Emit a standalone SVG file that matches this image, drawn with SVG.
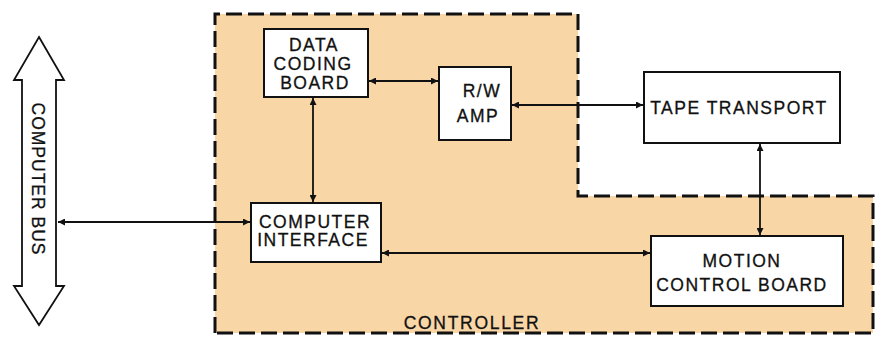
<svg xmlns="http://www.w3.org/2000/svg" width="876" height="338" viewBox="0 0 876 338">
<defs>
<marker id="ah" viewBox="0 0 10 10" refX="10" refY="5" markerWidth="9" markerHeight="7" markerUnits="userSpaceOnUse" orient="auto-start-reverse">
<path d="M0,0 L10,5 L0,10 z" fill="#111"/>
</marker>
<style>
.box{fill:#fff;stroke:#111;stroke-width:2}
.t{font-family:"Liberation Sans",Arial,sans-serif;font-size:17.5px;fill:#111;stroke:#111;stroke-width:0.3;letter-spacing:1.5px;text-anchor:middle}
.c{stroke:#111;stroke-width:1.8;fill:none;marker-start:url(#ah);marker-end:url(#ah)}
</style>
</defs>
<rect width="876" height="338" fill="#fff"/>
<g id="controller">
<path d="M215,14 H578 V196 H873 V333 H215 Z" fill="#F8D6A6" stroke="none"/>
<path d="M215,333 V14 H578 V196 H873 V333 Z" fill="none" stroke="#111" stroke-width="3" stroke-dasharray="16 6"/>
<text class="t" x="472" y="329" style="letter-spacing:1.7px">CONTROLLER</text>
</g>
<g id="computer-bus">
<path d="M39,37 L64,80 L56,80 L56,286 L64,286 L39,325 L14,286 L22,286 L22,80 L14,80 Z" fill="#fff" stroke="#111" stroke-width="1.8" stroke-linejoin="miter"/>
<text class="t" transform="translate(32,179) rotate(90)" x="0" y="0" style="letter-spacing:1px">COMPUTER  BUS</text>
</g>
<g id="data-coding-board">
<rect class="box" x="264" y="29" width="104" height="68"/>
<text class="t" x="314" y="51">DATA</text>
<text class="t" x="313" y="70">CODING</text>
<text class="t" x="315" y="89">BOARD</text>
</g>
<g id="computer-interface">
<rect class="box" x="251" y="203" width="130" height="59"/>
<text class="t" x="315" y="228">COMPUTER</text>
<text class="t" x="313" y="246">INTERFACE</text>
</g>
<g id="rw-amp">
<rect class="box" x="439" y="67" width="72" height="73"/>
<text class="t" x="482" y="97">R/W</text>
<text class="t" x="478" y="122">AMP</text>
</g>
<g id="tape-transport">
<rect class="box" x="644" y="72" width="196" height="71"/>
<text class="t" x="739" y="114">TAPE  TRANSPORT</text>
</g>
<g id="motion-control-board">
<rect class="box" x="651" y="236" width="192" height="70"/>
<text class="t" x="742" y="267">MOTION</text>
<text class="t" x="742" y="291">CONTROL BOARD</text>
</g>
<g id="connectors">
<line class="c" x1="58" y1="222" x2="250" y2="222"/>
<line class="c" x1="313" y1="98" x2="313" y2="202"/>
<line class="c" x1="369" y1="81" x2="438" y2="81"/>
<line class="c" x1="512" y1="105" x2="643" y2="105"/>
<line class="c" x1="760" y1="144" x2="760" y2="235"/>
<line class="c" x1="382" y1="253" x2="650" y2="253"/>
</g>
</svg>
